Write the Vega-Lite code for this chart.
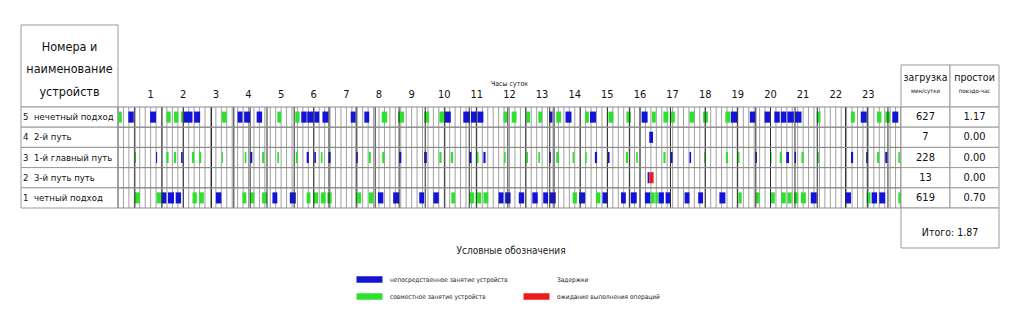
{
  "$schema": "https://vega.github.io/schema/vega-lite/v6.json",
  "width": 1024,
  "height": 326,
  "autosize": "none",
  "padding": 0,
  "background": "white",
  "config": {"view": {"stroke": null}, "text": {"font": "'DejaVu Sans Condensed', 'Liberation Sans Narrow', 'Liberation Sans', sans-serif"}},
  "datasets": {
    "devices": [
      {"track": "5", "name": "нечетный подход", "load": 627, "idle": 1.17},
      {"track": "4", "name": "2-й путь", "load": 7, "idle": 0.0},
      {"track": "3", "name": "1-й главный путь", "load": 228, "idle": 0.0},
      {"track": "2", "name": "3-й путь путь", "load": 13, "idle": 0.0},
      {"track": "1", "name": "четный подход", "load": 619, "idle": 0.7}
    ],
    "headerR": [
      {"col": "загрузка", "unit": "мин/сутки"},
      {"col": "простои", "unit": "поездо-час"}
    ],
    "hours": [{"h":1},{"h":2},{"h":3},{"h":4},{"h":5},{"h":6},{"h":7},{"h":8},{"h":9},{"h":10},{"h":11},{"h":12},{"h":13},{"h":14},{"h":15},{"h":16},{"h":17},{"h":18},{"h":19},{"h":20},{"h":21},{"h":22},{"h":23}],
    "grid10": [{"m":0},{"m":10},{"m":20},{"m":30},{"m":40},{"m":50},{"m":60},{"m":70},{"m":80},{"m":90},{"m":100},{"m":110},{"m":120},{"m":130},{"m":140},{"m":150},{"m":160},{"m":170},{"m":180},{"m":190},{"m":200},{"m":210},{"m":220},{"m":230},{"m":240},{"m":250},{"m":260},{"m":270},{"m":280},{"m":290},{"m":300},{"m":310},{"m":320},{"m":330},{"m":340},{"m":350},{"m":360},{"m":370},{"m":380},{"m":390},{"m":400},{"m":410},{"m":420},{"m":430},{"m":440},{"m":450},{"m":460},{"m":470},{"m":480},{"m":490},{"m":500},{"m":510},{"m":520},{"m":530},{"m":540},{"m":550},{"m":560},{"m":570},{"m":580},{"m":590},{"m":600},{"m":610},{"m":620},{"m":630},{"m":640},{"m":650},{"m":660},{"m":670},{"m":680},{"m":690},{"m":700},{"m":710},{"m":720},{"m":730},{"m":740},{"m":750},{"m":760},{"m":770},{"m":780},{"m":790},{"m":800},{"m":810},{"m":820},{"m":830},{"m":840},{"m":850},{"m":860},{"m":870},{"m":880},{"m":890},{"m":900},{"m":910},{"m":920},{"m":930},{"m":940},{"m":950},{"m":960},{"m":970},{"m":980},{"m":990},{"m":1000},{"m":1010},{"m":1020},{"m":1030},{"m":1040},{"m":1050},{"m":1060},{"m":1070},{"m":1080},{"m":1090},{"m":1100},{"m":1110},{"m":1120},{"m":1130},{"m":1140},{"m":1150},{"m":1160},{"m":1170},{"m":1180},{"m":1190},{"m":1200},{"m":1210},{"m":1220},{"m":1230},{"m":1240},{"m":1250},{"m":1260},{"m":1270},{"m":1280},{"m":1290},{"m":1300},{"m":1310},{"m":1320},{"m":1330},{"m":1340},{"m":1350},{"m":1360},{"m":1370},{"m":1380},{"m":1390},{"m":1400},{"m":1410},{"m":1420},{"m":1430},{"m":1440}],
    "events": [{"m":31},{"m":81},{"m":120},{"m":172},{"m":213},{"m":243},{"m":274},{"m":324},{"m":360},{"m":388},{"m":438},{"m":473},{"m":517},{"m":565},{"m":601},{"m":646},{"m":659},{"m":717},{"m":750},{"m":794},{"m":802},{"m":850},{"m":900},{"m":941},{"m":960},{"m":1016},{"m":1080},{"m":1139},{"m":1173},{"m":1200},{"m":1245},{"m":1286},{"m":1338},{"m":1378},{"m":1416}],
    "occ": [
      {"track":"5","kind":"с","start":1,"end":7},
      {"track":"5","kind":"н","start":19,"end":29},
      {"track":"5","kind":"н","start":59,"end":70},
      {"track":"5","kind":"с","start":89,"end":97},
      {"track":"5","kind":"с","start":103,"end":111},
      {"track":"5","kind":"с","start":116,"end":120},
      {"track":"5","kind":"н","start":121,"end":137},
      {"track":"5","kind":"н","start":140,"end":151},
      {"track":"5","kind":"с","start":191,"end":200},
      {"track":"5","kind":"н","start":220,"end":229},
      {"track":"5","kind":"н","start":232,"end":243},
      {"track":"5","kind":"н","start":255,"end":265},
      {"track":"5","kind":"с","start":293,"end":300},
      {"track":"5","kind":"с","start":326,"end":334},
      {"track":"5","kind":"н","start":337,"end":347},
      {"track":"5","kind":"н","start":348,"end":359},
      {"track":"5","kind":"н","start":361,"end":370},
      {"track":"5","kind":"н","start":376,"end":387},
      {"track":"5","kind":"н","start":428,"end":437},
      {"track":"5","kind":"н","start":453,"end":462},
      {"track":"5","kind":"с","start":485,"end":495},
      {"track":"5","kind":"с","start":515,"end":526},
      {"track":"5","kind":"с","start":563,"end":572},
      {"track":"5","kind":"с","start":591,"end":601},
      {"track":"5","kind":"н","start":601,"end":612},
      {"track":"5","kind":"н","start":635,"end":647},
      {"track":"5","kind":"н","start":649,"end":659},
      {"track":"5","kind":"н","start":661,"end":672},
      {"track":"5","kind":"с","start":709,"end":716},
      {"track":"5","kind":"с","start":724,"end":733},
      {"track":"5","kind":"с","start":751,"end":758},
      {"track":"5","kind":"с","start":773,"end":780},
      {"track":"5","kind":"н","start":793,"end":799},
      {"track":"5","kind":"с","start":806,"end":815},
      {"track":"5","kind":"н","start":823,"end":834},
      {"track":"5","kind":"с","start":859,"end":866},
      {"track":"5","kind":"н","start":868,"end":879},
      {"track":"5","kind":"с","start":902,"end":911},
      {"track":"5","kind":"с","start":935,"end":943},
      {"track":"5","kind":"н","start":963,"end":974},
      {"track":"5","kind":"с","start":982,"end":989},
      {"track":"5","kind":"с","start":1003,"end":1012},
      {"track":"5","kind":"с","start":1015,"end":1024},
      {"track":"5","kind":"с","start":1051,"end":1060},
      {"track":"5","kind":"с","start":1076,"end":1085},
      {"track":"5","kind":"с","start":1117,"end":1126},
      {"track":"5","kind":"н","start":1127,"end":1139},
      {"track":"5","kind":"н","start":1162,"end":1172},
      {"track":"5","kind":"н","start":1189,"end":1199},
      {"track":"5","kind":"н","start":1207,"end":1217},
      {"track":"5","kind":"н","start":1219,"end":1229},
      {"track":"5","kind":"н","start":1231,"end":1243},
      {"track":"5","kind":"н","start":1245,"end":1257},
      {"track":"5","kind":"с","start":1285,"end":1292},
      {"track":"5","kind":"с","start":1348,"end":1355},
      {"track":"5","kind":"н","start":1366,"end":1377},
      {"track":"5","kind":"с","start":1396,"end":1404},
      {"track":"5","kind":"с","start":1411,"end":1420},
      {"track":"5","kind":"н","start":1424,"end":1435},
      {"track":"4","kind":"н","start":977,"end":984},
      {"track":"2","kind":"н","start":974,"end":977},
      {"track":"2","kind":"о","start":977,"end":985},
      {"track":"3","kind":"с","start":30,"end":33},
      {"track":"3","kind":"н","start":70,"end":72},
      {"track":"3","kind":"с","start":89,"end":93},
      {"track":"3","kind":"с","start":103,"end":107},
      {"track":"3","kind":"н","start":116,"end":119},
      {"track":"3","kind":"с","start":136,"end":140},
      {"track":"3","kind":"с","start":149,"end":153},
      {"track":"3","kind":"с","start":191,"end":193},
      {"track":"3","kind":"с","start":233,"end":236},
      {"track":"3","kind":"н","start":243,"end":247},
      {"track":"3","kind":"с","start":265,"end":269},
      {"track":"3","kind":"с","start":293,"end":296},
      {"track":"3","kind":"с","start":327,"end":331},
      {"track":"3","kind":"н","start":347,"end":351},
      {"track":"3","kind":"н","start":361,"end":364},
      {"track":"3","kind":"с","start":373,"end":376},
      {"track":"3","kind":"н","start":387,"end":391},
      {"track":"3","kind":"н","start":438,"end":441},
      {"track":"3","kind":"с","start":461,"end":465},
      {"track":"3","kind":"с","start":486,"end":490},
      {"track":"3","kind":"н","start":517,"end":521},
      {"track":"3","kind":"н","start":563,"end":568},
      {"track":"3","kind":"с","start":591,"end":595},
      {"track":"3","kind":"с","start":612,"end":616},
      {"track":"3","kind":"н","start":646,"end":650},
      {"track":"3","kind":"с","start":659,"end":663},
      {"track":"3","kind":"н","start":672,"end":676},
      {"track":"3","kind":"с","start":710,"end":713},
      {"track":"3","kind":"с","start":751,"end":754},
      {"track":"3","kind":"с","start":773,"end":776},
      {"track":"3","kind":"н","start":793,"end":796},
      {"track":"3","kind":"с","start":806,"end":811},
      {"track":"3","kind":"с","start":836,"end":839},
      {"track":"3","kind":"с","start":859,"end":862},
      {"track":"3","kind":"н","start":877,"end":881},
      {"track":"3","kind":"н","start":901,"end":904},
      {"track":"3","kind":"с","start":934,"end":938},
      {"track":"3","kind":"с","start":953,"end":956},
      {"track":"3","kind":"с","start":1003,"end":1007},
      {"track":"3","kind":"н","start":1016,"end":1020},
      {"track":"3","kind":"н","start":1051,"end":1054},
      {"track":"3","kind":"с","start":1078,"end":1081},
      {"track":"3","kind":"с","start":1118,"end":1122},
      {"track":"3","kind":"с","start":1139,"end":1143},
      {"track":"3","kind":"н","start":1172,"end":1175},
      {"track":"3","kind":"с","start":1199,"end":1202},
      {"track":"3","kind":"с","start":1217,"end":1221},
      {"track":"3","kind":"н","start":1229,"end":1234},
      {"track":"3","kind":"н","start":1244,"end":1247},
      {"track":"3","kind":"с","start":1257,"end":1261},
      {"track":"3","kind":"с","start":1286,"end":1289},
      {"track":"3","kind":"н","start":1348,"end":1352},
      {"track":"3","kind":"н","start":1376,"end":1379},
      {"track":"3","kind":"с","start":1396,"end":1400},
      {"track":"3","kind":"н","start":1411,"end":1415},
      {"track":"3","kind":"с","start":1435,"end":1438},
      {"track":"1","kind":"с","start":31,"end":40},
      {"track":"1","kind":"с","start":71,"end":79},
      {"track":"1","kind":"н","start":80,"end":89},
      {"track":"1","kind":"н","start":92,"end":103},
      {"track":"1","kind":"н","start":106,"end":116},
      {"track":"1","kind":"с","start":137,"end":145},
      {"track":"1","kind":"с","start":149,"end":158},
      {"track":"1","kind":"н","start":180,"end":190},
      {"track":"1","kind":"с","start":229,"end":236},
      {"track":"1","kind":"с","start":243,"end":251},
      {"track":"1","kind":"с","start":265,"end":274},
      {"track":"1","kind":"н","start":284,"end":293},
      {"track":"1","kind":"н","start":316,"end":327},
      {"track":"1","kind":"с","start":347,"end":354},
      {"track":"1","kind":"с","start":359,"end":368},
      {"track":"1","kind":"с","start":373,"end":382},
      {"track":"1","kind":"с","start":385,"end":393},
      {"track":"1","kind":"с","start":438,"end":447},
      {"track":"1","kind":"с","start":461,"end":470},
      {"track":"1","kind":"н","start":478,"end":488},
      {"track":"1","kind":"н","start":506,"end":517},
      {"track":"1","kind":"н","start":554,"end":563},
      {"track":"1","kind":"н","start":580,"end":590},
      {"track":"1","kind":"с","start":613,"end":620},
      {"track":"1","kind":"с","start":646,"end":655},
      {"track":"1","kind":"с","start":658,"end":668},
      {"track":"1","kind":"с","start":672,"end":681},
      {"track":"1","kind":"н","start":700,"end":709},
      {"track":"1","kind":"н","start":712,"end":722},
      {"track":"1","kind":"н","start":737,"end":747},
      {"track":"1","kind":"н","start":762,"end":772},
      {"track":"1","kind":"н","start":782,"end":791},
      {"track":"1","kind":"н","start":794,"end":805},
      {"track":"1","kind":"с","start":836,"end":844},
      {"track":"1","kind":"н","start":848,"end":859},
      {"track":"1","kind":"с","start":879,"end":887},
      {"track":"1","kind":"н","start":891,"end":900},
      {"track":"1","kind":"н","start":925,"end":934},
      {"track":"1","kind":"н","start":943,"end":954},
      {"track":"1","kind":"н","start":969,"end":979},
      {"track":"1","kind":"с","start":980,"end":987},
      {"track":"1","kind":"с","start":988,"end":993},
      {"track":"1","kind":"н","start":994,"end":1004},
      {"track":"1","kind":"н","start":1007,"end":1016},
      {"track":"1","kind":"н","start":1042,"end":1051},
      {"track":"1","kind":"н","start":1067,"end":1076},
      {"track":"1","kind":"н","start":1106,"end":1117},
      {"track":"1","kind":"с","start":1141,"end":1147},
      {"track":"1","kind":"с","start":1173,"end":1180},
      {"track":"1","kind":"с","start":1201,"end":1208},
      {"track":"1","kind":"с","start":1220,"end":1228},
      {"track":"1","kind":"с","start":1231,"end":1239},
      {"track":"1","kind":"с","start":1243,"end":1251},
      {"track":"1","kind":"с","start":1256,"end":1265},
      {"track":"1","kind":"н","start":1274,"end":1285},
      {"track":"1","kind":"н","start":1337,"end":1348},
      {"track":"1","kind":"с","start":1377,"end":1384},
      {"track":"1","kind":"н","start":1386,"end":1396},
      {"track":"1","kind":"н","start":1400,"end":1411},
      {"track":"1","kind":"с","start":1435,"end":1440}
    ]
  },
  "resolve": {"scale": {"x": "independent", "y": "independent"}},
  "layer": [
    {
      "data": {"values": [{"title": ["Номера и", "наименование", "устройств"]}]},
      "mark": {"type": "rect", "fill": "white", "stroke": "#9a9a9a", "strokeWidth": 1},
      "encoding": {
        "x": {"datum": "устройства", "type": "nominal", "scale": {"type": "band", "domain": ["устройства"], "range": [21, 118], "paddingInner": 0, "paddingOuter": 0}, "axis": null},
        "y": {"datum": -4.06, "type": "quantitative", "scale": {"domain": [0, 5], "range": [107, 208], "zero": false, "nice": false}, "axis": null},
        "y2": {"datum": 0}
      }
    },
    {
      "data": {"values": [{"title": ["Номера и", "наименование", "устройств"]}]},
      "mark": {"type": "text", "fontSize": 12.5, "lineHeight": 22.5, "color": "#111", "align": "center", "baseline": "middle"},
      "encoding": {
        "x": {"datum": "устройства", "type": "nominal", "scale": {"type": "band", "domain": ["устройства"], "range": [21, 118], "paddingInner": 0, "paddingOuter": 0}, "axis": null},
        "y": {"datum": -2.99, "type": "quantitative", "scale": {"domain": [0, 5], "range": [107, 208], "zero": false, "nice": false}, "axis": null},
        "text": {"field": "title"}
      }
    },
    {
      "data": {"name": "devices"},
      "mark": {"type": "rect", "fill": "white", "stroke": "#9a9a9a", "strokeWidth": 1},
      "encoding": {
        "x": {"datum": "устройства", "type": "nominal", "scale": {"type": "band", "domain": ["устройства"], "range": [21, 118], "paddingInner": 0, "paddingOuter": 0}, "axis": null},
        "y": {"field": "track", "type": "nominal", "scale": {"type": "band", "domain": ["5", "4", "3", "2", "1"], "range": [107, 208], "paddingInner": 0, "paddingOuter": 0}, "axis": null}
      }
    },
    {
      "data": {"name": "devices"},
      "mark": {"type": "text", "fontSize": 9.5, "color": "#111", "align": "left", "baseline": "middle", "dx": 2},
      "encoding": {
        "x": {"datum": "устройства", "type": "nominal", "bandPosition": 0, "scale": {"type": "band", "domain": ["устройства"], "range": [21, 118], "paddingInner": 0, "paddingOuter": 0}, "axis": null},
        "y": {"field": "track", "type": "nominal", "scale": {"type": "band", "domain": ["5", "4", "3", "2", "1"], "range": [107, 208], "paddingInner": 0, "paddingOuter": 0}, "axis": null},
        "text": {"field": "track"}
      }
    },
    {
      "data": {"name": "devices"},
      "mark": {"type": "text", "fontSize": 9.5, "color": "#111", "align": "left", "baseline": "middle", "dx": 13},
      "encoding": {
        "x": {"datum": "устройства", "type": "nominal", "bandPosition": 0, "scale": {"type": "band", "domain": ["устройства"], "range": [21, 118], "paddingInner": 0, "paddingOuter": 0}, "axis": null},
        "y": {"field": "track", "type": "nominal", "scale": {"type": "band", "domain": ["5", "4", "3", "2", "1"], "range": [107, 208], "paddingInner": 0, "paddingOuter": 0}, "axis": null},
        "text": {"field": "name"}
      }
    },
    {
      "data": {"name": "grid10"},
      "mark": {"type": "rule", "color": "#a0a0a0", "strokeWidth": 1},
      "encoding": {
        "x": {"field": "m", "type": "quantitative", "scale": {"domain": [0, 1440], "range": [118, 901], "zero": false, "nice": false}, "axis": null},
        "y": {"datum": 0, "type": "quantitative", "scale": {"domain": [0, 5], "range": [107, 208], "zero": false, "nice": false}, "axis": null},
        "y2": {"datum": 5}
      }
    },
    {
      "data": {"name": "occ"},
      "mark": {"type": "bar", "height": {"band": 0.55}},
      "encoding": {
        "x": {"field": "start", "type": "quantitative", "scale": {"domain": [0, 1440], "range": [118, 901], "zero": false, "nice": false}, "axis": null},
        "x2": {"field": "end"},
        "y": {"field": "track", "type": "nominal", "scale": {"type": "band", "domain": ["5", "4", "3", "2", "1"], "range": [107, 208], "paddingInner": 0, "paddingOuter": 0}, "axis": null},
        "color": {
          "field": "kind", "type": "nominal",
          "scale": {"domain": ["н", "с", "з", "о"], "range": ["#1414d6", "#2fe02f", "rgba(0,0,0,0)", "#ee1b1b"]},
          "legend": {
            "orient": "none", "legendX": 363, "legendY": 246, "padding": 0,
            "title": "Условные обозначения", "titleAnchor": "middle", "titleFont": "'DejaVu Sans Condensed', 'Liberation Sans Narrow', 'Liberation Sans', sans-serif", "titleFontSize": 10, "titleFontWeight": "normal", "titleColor": "#222", "titlePadding": 17,
            "columns": 2, "columnPadding": 15, "rowPadding": 7,
            "symbolType": "M-2,-0.5L2,-0.5L2,0.5L-2,0.5Z", "symbolSize": 169, "symbolStrokeWidth": 0,
            "labelFont": "'DejaVu Sans Condensed', 'Liberation Sans Narrow', 'Liberation Sans', sans-serif", "labelFontSize": 6.5, "labelColor": "#222", "labelOffset": 14,
            "labelExpr": "datum.label == 'н' ? 'непосредственное занятие устройств' : datum.label == 'с' ? 'совместное занятие устройств' : datum.label == 'о' ? 'ожидание выполнения операций' : 'Задержки'"
          }
        }
      }
    },
    {
      "data": {"name": "events"},
      "mark": {"type": "rule", "color": "#2a2a2a", "strokeWidth": 1},
      "encoding": {
        "x": {"field": "m", "type": "quantitative", "scale": {"domain": [0, 1440], "range": [118, 901], "zero": false, "nice": false}, "axis": null},
        "y": {"datum": 0, "type": "quantitative", "scale": {"domain": [0, 5], "range": [107, 208], "zero": false, "nice": false}, "axis": null},
        "y2": {"datum": 5}
      }
    },
    {
      "data": {"name": "devices"},
      "mark": {"type": "rect", "fillOpacity": 0, "stroke": "#8a8a8a", "strokeWidth": 1},
      "encoding": {
        "x": {"datum": 0, "type": "quantitative", "scale": {"domain": [0, 1440], "range": [118, 901], "zero": false, "nice": false}, "axis": null},
        "x2": {"datum": 1440},
        "y": {"field": "track", "type": "nominal", "scale": {"type": "band", "domain": ["5", "4", "3", "2", "1"], "range": [107, 208], "paddingInner": 0, "paddingOuter": 0}, "axis": null}
      }
    },
    {
      "data": {"name": "hours"},
      "mark": {"type": "text", "fontSize": 11, "color": "#111", "align": "center", "baseline": "middle"},
      "encoding": {
        "x": {"field": "h", "type": "quantitative", "scale": {"domain": [0, 24], "range": [118, 901], "zero": false, "nice": false}, "axis": null},
        "y": {"datum": -0.58, "type": "quantitative", "scale": {"domain": [0, 5], "range": [107, 208], "zero": false, "nice": false}, "axis": null},
        "text": {"field": "h"}
      }
    },
    {
      "data": {"values": [{"label": "Часы суток"}]},
      "mark": {"type": "text", "fontSize": 7, "color": "#111", "align": "center", "baseline": "middle"},
      "encoding": {
        "x": {"datum": 12, "type": "quantitative", "scale": {"domain": [0, 24], "range": [118, 901], "zero": false, "nice": false}, "axis": null},
        "y": {"datum": -1.12, "type": "quantitative", "scale": {"domain": [0, 5], "range": [107, 208], "zero": false, "nice": false}, "axis": null},
        "text": {"field": "label"}
      }
    },
    {
      "data": {"name": "headerR"},
      "mark": {"type": "rect", "fill": "white", "stroke": "#9a9a9a", "strokeWidth": 1},
      "encoding": {
        "x": {"field": "col", "type": "nominal", "scale": {"type": "band", "domain": ["загрузка", "простои"], "range": [901, 999], "paddingInner": 0, "paddingOuter": 0}, "axis": null},
        "y": {"datum": -2.08, "type": "quantitative", "scale": {"domain": [0, 5], "range": [107, 208], "zero": false, "nice": false}, "axis": null},
        "y2": {"datum": 0}
      }
    },
    {
      "data": {"name": "headerR"},
      "mark": {"type": "text", "fontSize": 10.5, "color": "#111", "align": "center", "baseline": "middle"},
      "encoding": {
        "x": {"field": "col", "type": "nominal", "scale": {"type": "band", "domain": ["загрузка", "простои"], "range": [901, 999], "paddingInner": 0, "paddingOuter": 0}, "axis": null},
        "y": {"datum": -1.45, "type": "quantitative", "scale": {"domain": [0, 5], "range": [107, 208], "zero": false, "nice": false}, "axis": null},
        "text": {"field": "col"}
      }
    },
    {
      "data": {"name": "headerR"},
      "mark": {"type": "text", "fontSize": 6, "color": "#111", "align": "center", "baseline": "middle"},
      "encoding": {
        "x": {"field": "col", "type": "nominal", "scale": {"type": "band", "domain": ["загрузка", "простои"], "range": [901, 999], "paddingInner": 0, "paddingOuter": 0}, "axis": null},
        "y": {"datum": -0.8, "type": "quantitative", "scale": {"domain": [0, 5], "range": [107, 208], "zero": false, "nice": false}, "axis": null},
        "text": {"field": "unit"}
      }
    },
    {
      "data": {"name": "devices"},
      "mark": {"type": "rect", "fill": "white", "stroke": "#9a9a9a", "strokeWidth": 1},
      "encoding": {
        "x": {"datum": "загрузка", "type": "nominal", "scale": {"type": "band", "domain": ["загрузка", "простои"], "range": [901, 999], "paddingInner": 0, "paddingOuter": 0}, "axis": null},
        "y": {"field": "track", "type": "nominal", "scale": {"type": "band", "domain": ["5", "4", "3", "2", "1"], "range": [107, 208], "paddingInner": 0, "paddingOuter": 0}, "axis": null}
      }
    },
    {
      "data": {"name": "devices"},
      "mark": {"type": "rect", "fill": "white", "stroke": "#9a9a9a", "strokeWidth": 1},
      "encoding": {
        "x": {"datum": "простои", "type": "nominal", "scale": {"type": "band", "domain": ["загрузка", "простои"], "range": [901, 999], "paddingInner": 0, "paddingOuter": 0}, "axis": null},
        "y": {"field": "track", "type": "nominal", "scale": {"type": "band", "domain": ["5", "4", "3", "2", "1"], "range": [107, 208], "paddingInner": 0, "paddingOuter": 0}, "axis": null}
      }
    },
    {
      "data": {"name": "devices"},
      "mark": {"type": "text", "fontSize": 11, "color": "#111", "align": "center", "baseline": "middle"},
      "encoding": {
        "x": {"datum": "загрузка", "type": "nominal", "scale": {"type": "band", "domain": ["загрузка", "простои"], "range": [901, 999], "paddingInner": 0, "paddingOuter": 0}, "axis": null},
        "y": {"field": "track", "type": "nominal", "scale": {"type": "band", "domain": ["5", "4", "3", "2", "1"], "range": [107, 208], "paddingInner": 0, "paddingOuter": 0}, "axis": null},
        "text": {"field": "load"}
      }
    },
    {
      "data": {"name": "devices"},
      "mark": {"type": "text", "fontSize": 11, "color": "#111", "align": "center", "baseline": "middle"},
      "encoding": {
        "x": {"datum": "простои", "type": "nominal", "scale": {"type": "band", "domain": ["загрузка", "простои"], "range": [901, 999], "paddingInner": 0, "paddingOuter": 0}, "axis": null},
        "y": {"field": "track", "type": "nominal", "scale": {"type": "band", "domain": ["5", "4", "3", "2", "1"], "range": [107, 208], "paddingInner": 0, "paddingOuter": 0}, "axis": null},
        "text": {"field": "idle", "type": "quantitative", "format": ".2f"}
      }
    },
    {
      "data": {"values": [{"label": "Итого: 1.87"}]},
      "mark": {"type": "rect", "fill": "white", "stroke": "#9a9a9a", "strokeWidth": 1},
      "encoding": {
        "x": {"datum": "итого", "type": "nominal", "scale": {"type": "band", "domain": ["итого"], "range": [901, 999], "paddingInner": 0, "paddingOuter": 0}, "axis": null},
        "y": {"datum": 5, "type": "quantitative", "scale": {"domain": [0, 5], "range": [107, 208], "zero": false, "nice": false}, "axis": null},
        "y2": {"datum": 6.98}
      }
    },
    {
      "data": {"values": [{"label": "Итого: 1.87"}]},
      "mark": {"type": "text", "fontSize": 10.5, "color": "#111", "align": "center", "baseline": "middle"},
      "encoding": {
        "x": {"datum": "итого", "type": "nominal", "scale": {"type": "band", "domain": ["итого"], "range": [901, 999], "paddingInner": 0, "paddingOuter": 0}, "axis": null},
        "y": {"datum": 6.25, "type": "quantitative", "scale": {"domain": [0, 5], "range": [107, 208], "zero": false, "nice": false}, "axis": null},
        "text": {"field": "label"}
      }
    }
  ]
}
